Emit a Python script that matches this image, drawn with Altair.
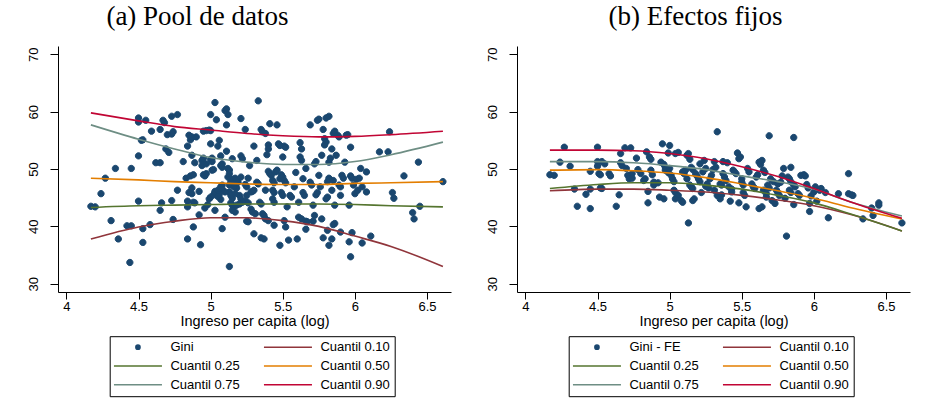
import altair as alt
import pandas as pd

# ---------------- data ----------------
series_names = ["Gini", "Cuantil 0.10", "Cuantil 0.25", "Cuantil 0.50", "Cuantil 0.75", "Cuantil 0.90"]
series_names_fe = ["Gini - FE", "Cuantil 0.10", "Cuantil 0.25", "Cuantil 0.50", "Cuantil 0.75", "Cuantil 0.90"]
series_colors = ["#1a476f", "#90353b", "#55752f", "#e37e00", "#6e8e84", "#c10534"]

x_ticks = [4, 4.5, 5, 5.5, 6, 6.5]
y_ticks = [30, 40, 50, 60, 70]

# (a) Pool de datos: scatter
pool_x = [4.17,4.20,4.24,4.27,4.31,4.34,4.36,4.42,4.45,4.44,4.45,4.50,4.50,4.50,4.50,4.52,4.53,4.53,4.53,4.55,4.58,4.59,4.62,4.65,4.65,4.66,4.65,4.67,4.68,4.69,4.71,4.70,4.73,4.74,4.73,4.74,4.73,4.77,4.77,4.81,4.83,4.84,4.84,4.84,4.84,4.85,4.86,4.87,4.85,4.87,4.86,4.88,4.87,4.88,4.89,4.88,4.87,4.89,4.90,4.92,4.93,4.92,4.94,4.94,4.95,4.95,4.96,4.97,4.95,4.97,4.97,4.96,4.98,4.99,5.00,5.00,5.00,4.99,5.00,5.00,5.01,5.01,5.01,5.02,5.02,5.03,5.03,5.03,5.03,5.04,5.05,5.06,5.07,5.07,5.08,5.08,5.07,5.08,5.08,5.08,5.10,5.10,5.11,5.12,5.11,5.11,5.12,5.13,5.13,5.12,5.14,5.14,5.13,5.13,5.14,5.15,5.14,5.15,5.16,5.15,5.17,5.15,5.17,5.18,5.17,5.18,5.20,5.21,5.21,5.21,5.22,5.24,5.24,5.25,5.24,5.26,5.25,5.26,5.26,5.27,5.28,5.29,5.30,5.28,5.29,5.31,5.30,5.30,5.32,5.33,5.32,5.33,5.34,5.35,5.36,5.37,5.35,5.37,5.35,5.36,5.38,5.38,5.40,5.38,5.39,5.40,5.40,5.40,5.41,5.42,5.41,5.43,5.44,5.43,5.44,5.43,5.44,5.44,5.45,5.46,5.46,5.47,5.48,5.48,5.49,5.50,5.48,5.49,5.50,5.50,5.51,5.52,5.51,5.52,5.51,5.52,5.53,5.54,5.55,5.56,5.58,5.59,5.60,5.61,5.61,5.63,5.62,5.63,5.62,5.63,5.64,5.64,5.65,5.66,5.67,5.66,5.66,5.69,5.70,5.69,5.71,5.71,5.72,5.72,5.73,5.73,5.74,5.74,5.75,5.75,5.76,5.77,5.77,5.78,5.78,5.79,5.80,5.79,5.80,5.81,5.80,5.82,5.81,5.81,5.82,5.82,5.82,5.83,5.84,5.84,5.84,5.85,5.86,5.85,5.86,5.85,5.86,5.87,5.88,5.89,5.89,5.90,5.90,5.90,5.91,5.92,5.93,5.94,5.95,5.96,5.96,5.97,5.97,5.97,5.98,5.98,5.99,6.00,6.01,6.02,6.03,6.04,6.05,6.05,6.08,6.08,6.11,6.17,6.23,6.24,6.26,6.27,6.34,6.40,6.41,6.44,6.45,6.61,5.05,5.06,5.10,5.17,5.19,5.21,5.22,5.25,5.13,5.16,5.07,5.05,5.20,5.18]
pool_y = [43.5,43.4,45.7,48.4,41.0,50.1,37.8,40.1,40.1,33.7,50.1,44.4,58.9,58.2,52.3,55.0,55.1,39.6,37.2,58.5,40.3,56.6,51.1,51.1,42.8,44.1,56.9,58.5,58.1,53.5,52.9,56.0,56.1,56.5,44.5,41.2,59.2,59.5,46.3,51.3,48.4,54.0,43.4,44.4,37.8,55.9,55.1,55.6,45.9,45.7,48.8,49.0,46.7,44.2,44.1,39.9,52.4,51.1,55.6,46.1,36.8,42.0,50.6,51.5,51.9,49.0,48.8,49.2,56.6,56.7,50.9,43.2,43.8,44.8,45.1,59.5,56.7,56.8,54.4,51.7,51.3,51.9,49.8,49.9,45.5,45.9,46.1,42.8,61.6,58.6,54.0,55.0,52.3,50.6,50.3,50.9,46.9,47.2,46.5,39.6,41.6,60.2,60.5,59.5,57.7,53.1,50.1,49.8,49.2,48.6,48.3,47.8,33.0,46.0,45.4,44.9,44.1,43.7,43.4,42.8,42.5,51.8,48.4,48.0,47.2,46.7,45.4,44.8,58.8,52.3,51.8,56.9,47.3,46.9,44.4,44.1,40.9,40.8,48.4,50.6,46.0,46.1,46.3,43.0,42.5,42.2,38.7,54.0,51.5,61.9,47.7,47.4,44.2,43.9,42.2,41.9,38.0,37.8,56.9,56.5,56.2,41.3,41.0,46.3,52.5,54.2,53.5,49.6,49.2,48.9,57.9,48.0,47.6,46.3,45.9,44.8,44.2,40.2,49.5,49.8,57.7,54.4,54.1,48.3,49.0,48.6,36.7,45.9,45.4,52.1,54.0,53.8,48.0,47.6,41.0,39.9,43.4,37.6,45.4,45.1,46.9,49.4,37.8,44.2,41.6,41.3,54.6,53.5,52.1,51.5,48.3,45.9,45.4,40.9,40.8,50.1,39.5,47.7,47.2,57.7,43.7,40.9,41.9,50.9,51.3,45.5,45.9,58.5,58.7,48.9,46.9,41.3,52.4,38.0,56.9,55.3,54.7,54.2,44.8,45.1,58.9,59.2,39.3,47.8,48.4,36.7,51.2,51.9,46.3,37.8,53.5,56.2,56.6,40.3,40.5,48.0,43.7,52.4,55.9,55.6,47.2,46.9,45.4,39.0,48.9,48.4,51.2,55.9,56.0,43.7,37.3,34.7,53.8,48.8,48.4,38.9,47.2,45.7,48.2,46.3,48.4,50.1,37.1,46.9,46.0,49.5,38.3,53.0,53.0,56.5,45.9,44.9,48.8,42.4,41.3,51.2,43.5,47.8,46.3,45.6,46.0,45.7,47.7,48.6,44.2,45.4,47.2,46.9,44.7,45.2,43.9,43.7]

# (b) Efectos fijos: scatter
fe_x = [4.17,4.20,4.24,4.27,4.31,4.34,4.36,4.42,4.45,4.45,4.45,4.50,4.50,4.50,4.51,4.52,4.52,4.53,4.53,4.55,4.58,4.59,4.63,4.66,4.66,4.67,4.65,4.69,4.70,4.71,4.72,4.72,4.74,4.74,4.73,4.77,4.78,4.80,4.82,4.83,4.84,4.85,4.85,4.86,4.87,4.87,4.88,4.89,4.89,4.92,4.93,4.96,4.94,4.96,4.97,4.95,4.97,4.99,5.00,4.99,5.00,5.01,5.02,5.03,5.03,5.04,5.06,5.04,5.04,5.06,5.08,5.09,5.09,5.10,5.11,5.12,5.12,5.13,5.14,5.13,5.14,5.15,5.16,5.15,5.16,5.16,5.17,5.18,5.19,5.20,5.21,5.21,5.22,5.23,5.24,5.25,5.25,5.26,5.27,5.28,5.29,5.30,5.31,5.32,5.31,5.33,5.33,5.35,5.36,5.35,5.36,5.37,5.38,5.39,5.37,5.40,5.41,5.43,5.43,5.42,5.44,5.45,5.46,5.47,5.48,5.49,5.48,5.50,5.50,5.51,5.51,5.52,5.53,5.54,5.55,5.57,5.58,5.59,5.60,5.61,5.62,5.64,5.62,5.63,5.64,5.65,5.66,5.65,5.67,5.67,5.68,5.69,5.69,5.70,5.72,5.71,5.73,5.74,5.75,5.76,5.75,5.77,5.78,5.79,5.80,5.81,5.82,5.83,5.84,5.83,5.84,5.84,5.86,5.87,5.86,5.86,5.89,5.90,5.91,5.93,5.94,5.95,5.96,5.97,5.97,5.98,6.00,6.01,6.02,6.04,6.05,6.08,6.10,6.17,6.24,6.24,6.26,6.27,6.34,6.40,6.41,6.45,6.45,6.61]
fe_y = [49.0,48.9,51.2,53.8,50.5,46.5,43.5,45.6,49.6,43.1,46.5,53.8,51.3,50.5,49.2,49.0,46.7,46.6,51.3,50.9,49.2,48.8,43.5,52.7,51.1,50.6,45.5,53.7,50.1,48.9,48.8,48.3,49.2,48.4,53.7,51.9,49.9,49.2,48.0,48.3,53.0,46.1,44.1,52.1,51.7,49.8,49.0,47.7,47.2,47.6,45.1,44.8,51.2,50.8,50.3,54.4,49.8,49.4,50.1,52.8,54.1,48.9,48.3,47.8,46.3,45.9,45.4,44.8,52.7,52.9,44.5,44.2,49.5,49.2,49.8,48.3,52.4,52.7,51.7,40.6,47.2,46.9,46.6,50.3,49.9,44.5,44.8,49.2,48.8,48.3,47.8,50.9,45.9,49.5,51.5,50.1,47.0,47.4,46.7,48.3,48.9,49.9,51.3,50.3,46.3,56.5,45.4,44.8,45.5,47.4,47.2,49.2,48.6,48.0,51.3,51.1,46.9,46.5,46.0,44.4,49.8,49.5,49.2,52.8,51.8,52.1,44.1,48.3,47.7,47.2,45.9,45.4,43.4,50.1,49.5,47.4,46.9,46.6,48.6,49.0,43.1,43.4,51.2,50.8,51.5,49.8,49.4,46.3,45.7,45.1,47.2,46.7,55.8,48.3,47.8,44.5,44.0,46.3,45.9,45.4,47.4,47.7,48.8,50.1,44.9,38.3,48.6,48.3,47.8,46.3,45.9,50.3,47.2,46.9,43.8,55.5,45.7,45.4,48.9,49.0,48.8,47.3,46.7,42.6,44.0,45.3,46.0,46.9,44.4,46.3,46.6,45.9,41.5,45.7,49.2,45.7,45.5,45.4,41.3,43.2,41.9,44.1,43.7,40.6]

# quantile curves, values read at these incomes
curve_x = [4.17, 4.5, 4.75, 5.0, 5.25, 5.5, 5.75, 6.0, 6.25, 6.61]
pool_q10 = [37.8, 39.9, 40.9, 41.5, 41.5, 41.0, 40.0, 38.3, 36.5, 33.0]
pool_q25 = [43.3, 43.6, 43.7, 43.8, 43.9, 43.9, 43.9, 43.8, 43.6, 43.4]
pool_q50 = [48.4, 48.1, 47.8, 47.6, 47.4, 47.3, 47.3, 47.5, 47.6, 47.8]
pool_q75 = [57.7, 55.2, 53.5, 52.0, 51.2, 50.8, 50.8, 51.3, 52.5, 54.7]
pool_q90 = [59.8, 58.4, 57.4, 56.8, 56.2, 55.8, 55.6, 55.7, 56.0, 56.6]
fe_q10 = [46.2, 46.5, 46.5, 46.3, 46.0, 45.4, 44.6, 43.6, 42.1, 39.2]
fe_q25 = [46.6, 47.3, 47.6, 47.6, 47.2, 46.5, 45.4, 44.1, 42.2, 39.2]
fe_q50 = [49.8, 49.9, 49.7, 49.3, 48.5, 47.4, 46.2, 44.9, 43.3, 41.3]
fe_q75 = [51.3, 51.3, 51.1, 50.6, 49.9, 48.8, 47.8, 46.5, 44.3, 41.8]
fe_q90 = [53.3, 53.3, 53.2, 52.7, 51.8, 50.4, 48.7, 46.6, 44.3, 41.4]

# ---------------- styling ----------------
X_DOMAIN = [3.942, 6.666]
Y_DOMAIN = [28.55, 71.46]
DOT_PATH = "M-0.35,0A0.35,0.35,0,1,0,0.35,0A0.35,0.35,0,1,0,-0.35,0Z"
LINE_PATH = "M-4,0L4,0"
SANS = "Liberation Sans"
SERIF = "Liberation Serif"


def panel(title, names, sx, sy, curves, dx):
    pts = pd.DataFrame({"x": sx, "y": sy, "s": names[0]})
    rows = []
    for name, vals in zip(names[1:], curves):
        for xv, yv in zip(curve_x, vals):
            rows.append({"x": xv, "y": yv, "s": name})
    lines = pd.DataFrame(rows)

    color_scale = alt.Scale(domain=names, range=series_colors)
    shape_scale = alt.Scale(domain=names, range=[DOT_PATH] + [LINE_PATH] * 5)
    legend = alt.Legend(
        title=None, orient="none", legendX=51.7, legendY=290.2, columns=2,
        direction="horizontal",
        strokeColor="black", padding=4, rowPadding=4.8, columnPadding=20,
        labelFont=SANS, labelFontSize=13, labelColor="black", labelLimit=300,
        labelOffset=25.5, symbolOffset=17.25, symbolSize=144,
        symbolStrokeWidth=1.5, fillColor="white",
    )

    x_enc = alt.X("x:Q", scale=alt.Scale(domain=X_DOMAIN, nice=False, zero=False),
                  axis=alt.Axis(values=x_ticks, format=".1~f", title="Ingreso per capita (log)",
                                tickSize=7, labelPadding=1, titlePadding=1))
    y_enc = alt.Y("y:Q", scale=alt.Scale(domain=Y_DOMAIN, nice=False, zero=False),
                  axis=alt.Axis(values=y_ticks, title=None, labelAngle=270, labelAlign="center",
                                labelBaseline="alphabetic", tickSize=8, labelPadding=13))

    scatter = alt.Chart(pts).mark_point(
        filled=False, fill=series_colors[0], size=324, strokeWidth=1, opacity=1
    ).encode(
        x=x_enc, y=y_enc,
        color=alt.Color("s:N", scale=color_scale, legend=legend),
        shape=alt.Shape("s:N", scale=shape_scale, legend=legend),
    )
    curves_layer = alt.Chart(lines).mark_line(strokeWidth=1.6, interpolate="monotone").encode(
        x="x:Q", y="y:Q",
        color=alt.Color("s:N", scale=color_scale, legend=None),
    )
    return alt.layer(scatter, curves_layer).properties(
        width=393, height=246,
        title=alt.TitleParams(title, font=SERIF, fontSize=27, fontWeight="normal",
                              anchor="middle", dx=dx, offset=-5.5, baseline="alphabetic",
                              color="black"),
    )


left = panel("(a) Pool de datos", series_names, pool_x, pool_y,
             [pool_q10, pool_q25, pool_q50, pool_q75, pool_q90], -57)
right = panel("(b) Efectos fijos", series_names_fe, fe_x, fe_y,
              [fe_q10, fe_q25, fe_q50, fe_q75, fe_q90], -18)

chart = alt.hconcat(left, right, spacing=35).resolve_scale(
    color="independent", shape="independent", x="independent", y="independent"
).resolve_legend(color="independent", shape="independent").properties(
    padding={"left": 27, "top": 2, "right": 5, "bottom": 5},
    background="white",
).configure_view(stroke=None).configure_axis(
    grid=False, domainColor="black", tickColor="black", labelColor="black",
    labelFont=SANS, labelFontSize=13, titleFont=SANS, titleFontSize=14.5,
    titleFontWeight="normal", titleColor="black", domainWidth=1, tickWidth=1,
)

chart.save("out.html", embed_options={"renderer": "svg", "actions": False})
